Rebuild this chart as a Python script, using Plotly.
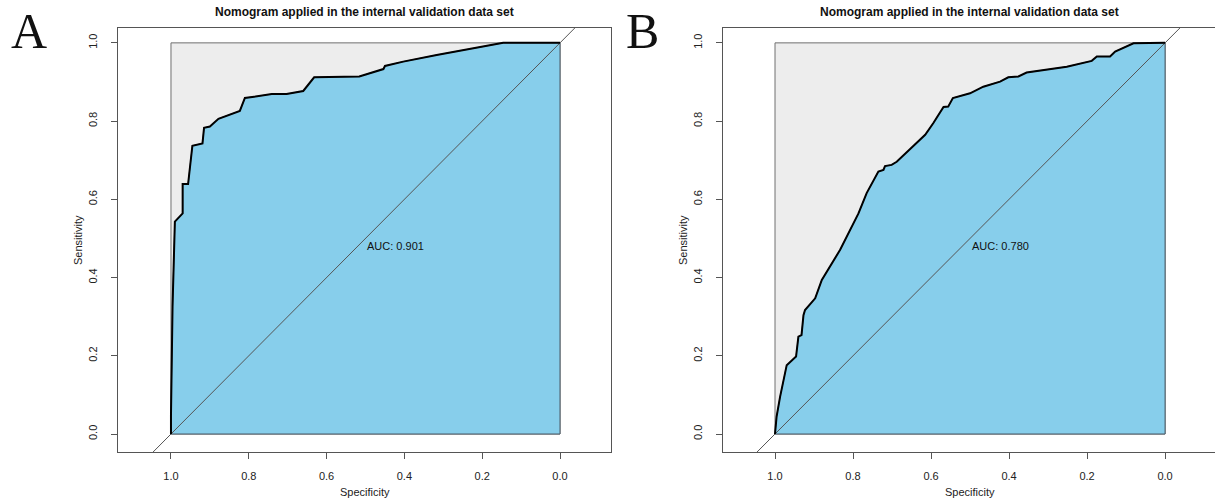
import plotly.graph_objects as go

# ---------------- data ----------------
spec_A = [1.0, 1.0, 0.996, 0.992, 0.990, 0.970, 0.970, 0.956, 0.945, 0.919, 0.915, 0.900,
          0.887, 0.878, 0.823, 0.810, 0.741, 0.703, 0.660, 0.632, 0.516, 0.488, 0.454,
          0.450, 0.403, 0.317, 0.231, 0.171, 0.146, 0.0]
sens_A = [0.0, 0.05, 0.326, 0.445, 0.543, 0.564, 0.639, 0.639, 0.737, 0.743, 0.783, 0.786,
          0.797, 0.806, 0.826, 0.859, 0.869, 0.869, 0.877, 0.912, 0.914, 0.922, 0.933,
          0.941, 0.952, 0.969, 0.984, 0.995, 1.0, 1.0]

spec_B = [1.0, 0.996, 0.987, 0.970, 0.946, 0.940, 0.932, 0.927, 0.923, 0.897, 0.880, 0.833,
          0.786, 0.765, 0.735, 0.722, 0.718, 0.701, 0.688, 0.615, 0.594, 0.568, 0.556,
          0.544, 0.500, 0.466, 0.423, 0.402, 0.376, 0.355, 0.252, 0.188, 0.175, 0.141,
          0.128, 0.081, 0.0]
sens_B = [0.0, 0.044, 0.095, 0.176, 0.198, 0.249, 0.253, 0.304, 0.317, 0.347, 0.394, 0.471,
          0.564, 0.616, 0.671, 0.675, 0.685, 0.688, 0.696, 0.765, 0.795, 0.836, 0.837,
          0.859, 0.871, 0.888, 0.901, 0.912, 0.914, 0.924, 0.939, 0.954, 0.965, 0.965,
          0.978, 0.999, 1.0]

auc_labels = ["AUC: 0.901", "AUC: 0.780"]
panel_letters = ["A", "B"]
title_text = "Nomogram applied in the internal validation data set"
tick_vals = [1.0, 0.8, 0.6, 0.4, 0.2, 0.0]
tick_text = ["1.0", "0.8", "0.6", "0.4", "0.2", "0.0"]

W, H = 1215, 501
FONT = "Liberation Sans, Arial, sans-serif"


def px(x):
    return x / W


def py(y):
    return 1 - y / H


fig = go.Figure()

panels = [
    dict(xa="x", ya="y", spec=spec_A, sens=sens_A, auc=auc_labels[0], letter=panel_letters[0],
         frame=(118, 611), letter_x=9),
    dict(xa="x2", ya="y2", spec=spec_B, sens=sens_B, auc=auc_labels[1], letter=panel_letters[1],
         frame=(723, 1216), letter_x=624),
]

annotations = []
for p in panels:
    xa, ya = p["xa"], p["ya"]
    # max AUC (grey) polygon
    fig.add_trace(go.Scatter(x=[1, 0, 0, 1, 1], y=[0, 0, 1, 1, 0], xaxis=xa, yaxis=ya,
                             mode="lines", fill="toself", fillcolor="#EDEDED",
                             line=dict(color="#707070", width=1), hoverinfo="skip"))
    # AUC polygon
    fig.add_trace(go.Scatter(x=p["spec"] + [0.0, 1.0], y=p["sens"] + [0.0, 0.0],
                             xaxis=xa, yaxis=ya, mode="lines", fill="toself",
                             fillcolor="#87CEEB", line=dict(color="#4a5a66", width=1),
                             hoverinfo="skip"))
    # identity line
    fig.add_trace(go.Scatter(x=[1.3, -0.3], y=[-0.3, 1.3], xaxis=xa, yaxis=ya, mode="lines",
                             line=dict(color="#555555", width=1), hoverinfo="skip"))
    # ROC curve
    fig.add_trace(go.Scatter(x=p["spec"], y=p["sens"], xaxis=xa, yaxis=ya, mode="lines",
                             line=dict(color="black", width=2), hoverinfo="skip"))

    fl, fr = p["frame"]
    cx = (fl + fr) / 2
    annotations += [
        dict(text="<b>" + title_text + "</b>", x=px(cx), y=py(12), xref="paper", yref="paper",
             showarrow=False, xanchor="center", yanchor="middle",
             font=dict(family=FONT, size=12, color="#111")),
        dict(text=p["letter"], x=px(p["letter_x"]), y=py(31), xref="paper", yref="paper",
             showarrow=False, xanchor="left", yanchor="middle",
             font=dict(family="Liberation Serif, Times New Roman, serif", size=50, color="#111")),
        dict(text="Specificity", x=px(min(cx, 1213)), y=py(492), xref="paper", yref="paper",
             showarrow=False, xanchor="center", yanchor="middle",
             font=dict(family=FONT, size=11, color="#222")),
        dict(text="Sensitivity", x=px(fl - 40), y=py(240), xref="paper", yref="paper",
             showarrow=False, xanchor="center", yanchor="middle", textangle=-90,
             font=dict(family=FONT, size=11, color="#222")),
        dict(text=p["auc"], x=0.5, y=0.5, xref=xa, yref=ya, showarrow=False,
             xanchor="left", yanchor="top", font=dict(family=FONT, size=11, color="#111")),
    ]

common_x = dict(tickvals=tick_vals, ticktext=tick_text, ticks="outside", ticklen=6,
                tickcolor="#555", showline=True, linecolor="#555", linewidth=1, mirror=True,
                showgrid=False, zeroline=False, ticklabelstandoff=8,
                tickfont=dict(family=FONT, size=11, color="#222"))
common_y = dict(common_x)
common_y["tickangle"] = -90
common_y["ticklabelstandoff"] = 10

ydom = [py(452), py(28)]
fig.update_layout(
    width=W, height=H, margin=dict(l=0, r=0, t=0, b=0),
    paper_bgcolor="white", plot_bgcolor="white", showlegend=False,
    xaxis=dict(domain=[px(118), px(611)], range=[1.1362, -0.1311], anchor="y", **common_x),
    yaxis=dict(domain=ydom, range=[-0.046, 1.038], anchor="x", **common_y),
    xaxis2=dict(domain=[px(723), 1.0], range=[1.1333, -0.128], anchor="y2", **common_x),
    yaxis2=dict(domain=ydom, range=[-0.046, 1.038], anchor="x2", **common_y),
    annotations=annotations,
)

fig.write_html("out.html", config={"displayModeBar": False},
               post_script="document.body.style.margin='0';document.body.style.overflow='hidden';")
